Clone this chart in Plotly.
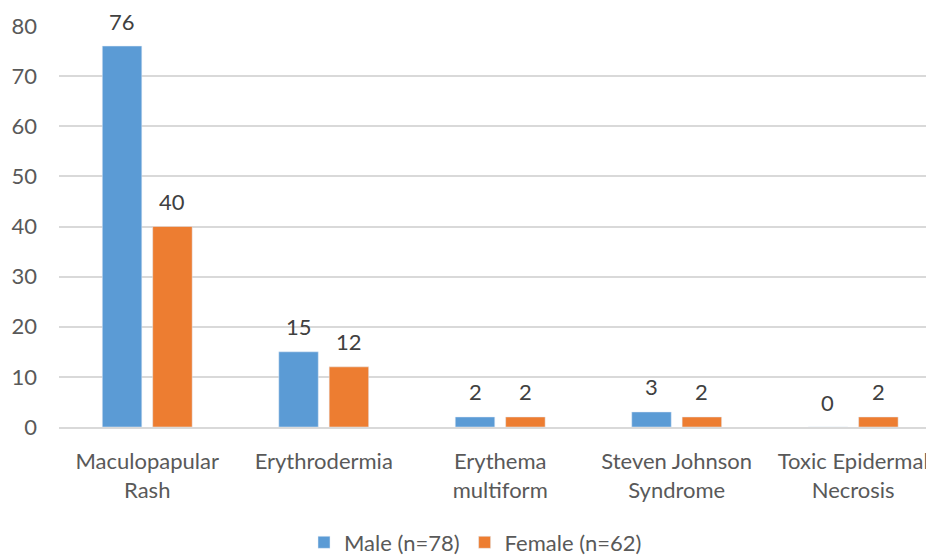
import plotly.graph_objects as go

categories = ["Maculopapular<br>Rash", "Erythrodermia", "Erythema<br>multiform",
              "Steven Johnson<br>Syndrome", "Toxic Epidermal<br>Necrosis"]
male = [76, 15, 2, 3, 0]
female = [40, 12, 2, 2, 2]
y_ticks = [0, 10, 20, 30, 40, 50, 60, 70, 80]

FONT = "Lato, Open Sans, Liberation Sans, sans-serif"
TXT = "#595959"
LBL = "#404040"
FS = 22

fig = go.Figure()
fig.add_trace(go.Bar(x=categories, y=male, name="Male (n=78)", marker_color="#5B9BD5"))
fig.add_trace(go.Bar(x=categories, y=female, name="Female (n=62)", marker_color="#ED7D31"))

annotations = []
for series, dx in ((male, -25.2), (female, 25.2)):
    for cat, v in zip(categories, series):
        annotations.append(dict(x=cat, y=v, text=str(v), showarrow=False,
                                xshift=dx, yshift=25, yanchor="middle",
                                font=dict(size=FS, color=LBL, family=FONT)))

fig.update_layout(
    width=926, height=549,
    margin=dict(l=51, r=0, t=18, b=130, autoexpand=False),
    paper_bgcolor="white", plot_bgcolor="white",
    barmode="group", bargap=0.429, bargroupgap=0.216,
    font=dict(family=FONT, size=FS, color=TXT),
    showlegend=True,
    annotations=annotations,
    legend=dict(orientation="h", x=0.476, xanchor="center", y=-0.288, yanchor="middle",
                font=dict(size=FS, color=TXT), itemwidth=30, traceorder="normal"),
    xaxis=dict(range=[-0.5, 4.458], showgrid=False, showline=True, linecolor="#D9D9D9",
               linewidth=1.5, ticks="", automargin=False, ticklabelstandoff=14,
               tickfont=dict(size=FS, color=TXT)),
    yaxis=dict(range=[0, 80], tickvals=y_ticks, showgrid=True, gridcolor="#D9D9D9",
               gridwidth=1.5, zeroline=False, showline=False, ticks="", automargin=False,
               ticklabelstandoff=21, tickfont=dict(size=FS, color=TXT)),
)

fig.write_html("out.html")
